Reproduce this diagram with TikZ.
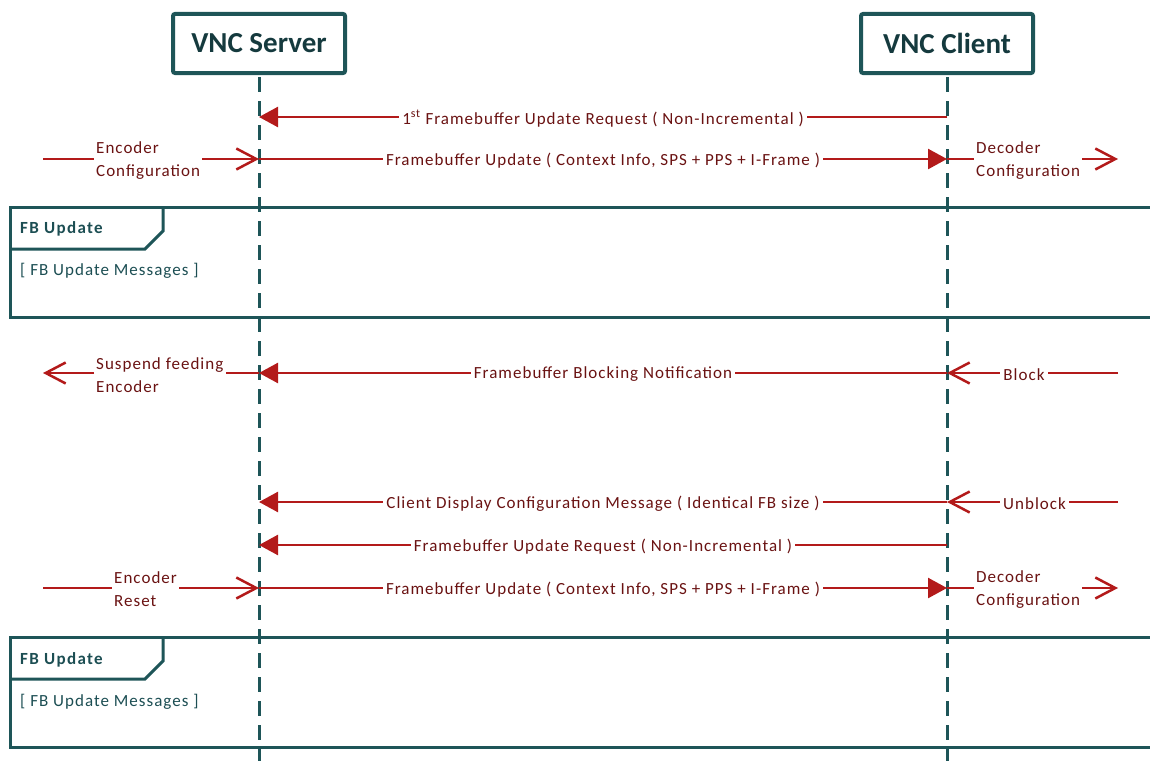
\documentclass[tikz,border=0pt]{standalone}
\usepackage{fontspec}
\setmainfont{Carlito}
\newfontfamily\msgfont[LetterSpace=6]{Carlito}
\newfontfamily\titlefont[LetterSpace=8]{Carlito}
\usetikzlibrary{arrows.meta}

\definecolor{lifeteal}{HTML}{1E5558}
\definecolor{headtext}{HTML}{153A3E}
\definecolor{frametext}{HTML}{1C4E53}
\definecolor{msgred}{HTML}{B31A1A}
\definecolor{msgtext}{HTML}{6A1212}

\tikzset{
  actor/.style={draw=lifeteal, line width=4pt, rounded corners=2pt, fill=white,
    minimum width=172pt, minimum height=59pt, inner sep=0pt,
    font=\fontsize{29}{32}\selectfont\bfseries, text=headtext},
  lifeline/.style={draw=lifeteal, line width=3pt, dash pattern=on 15pt off 9pt},
  msg/.style={draw=msgred, line width=2.5pt},
  sync/.style={msg, -{Triangle[length=19pt,width=20pt]}},
  open/.style={msg, -{Straight Barb[length=20pt,width=21pt]}},
  msglbl/.style={fill=white, text=msgtext, inner xsep=3pt, inner ysep=1pt,
    yshift=-1.5pt, font=\msgfont\fontsize{17}{23}\selectfont},
  sidelbl/.style={text=msgtext, align=left, inner sep=2pt,
    font=\msgfont\fontsize{17}{23}\selectfont},
  frameline/.style={draw=lifeteal, line width=3pt},
  frametitle/.style={text=frametext, inner sep=0pt,
    font=\titlefont\fontsize{17}{20}\selectfont\bfseries},
  framebody/.style={text=frametext, inner sep=0pt,
    font=\msgfont\fontsize{17}{20}\selectfont},
}

\begin{document}
\begin{tikzpicture}[x=1pt,y=-1pt]
\useasboundingbox (0,0) rectangle (1150,760);

% combined fragments
\draw[frameline] (1155,207) -- (10,207) -- (10,317) -- (1155,317);
\draw[frameline] (10,249) -- (145,249) -- (163,231) -- (163,207);
\node[frametitle, anchor=west] at (20,229) {FB Update};
\node[framebody, anchor=west] at (20,271) {[ FB Update Messages ]};

\draw[frameline] (1155,637) -- (10,637) -- (10,747) -- (1155,747);
\draw[frameline] (10,679) -- (145,679) -- (163,661) -- (163,637);
\node[frametitle, anchor=west] at (20,660) {FB Update};
\node[framebody, anchor=west] at (20,702) {[ FB Update Messages ]};

% participants
\node[actor] (srv) at (259,43.5) {VNC Server};
\node[actor] (cli) at (947,43.5) {VNC Client};

\coordinate (srvEnd) at (259,762);
\coordinate (cliEnd) at (947,762);
\draw[lifeline] ([yshift=-2pt]srv.south) -- (srvEnd);
\draw[lifeline] ([yshift=-2pt]cli.south) -- (cliEnd);

% anchor points on the lifelines
\coordinate (s1) at (259,117); \coordinate (c1) at (947,117);
\coordinate (s2) at (259,159); \coordinate (c2) at (947,159);
\coordinate (s3) at (259,373); \coordinate (c3) at (947,373);
\coordinate (s4) at (259,502); \coordinate (c4) at (947,502);
\coordinate (s5) at (259,545); \coordinate (c5) at (947,545);
\coordinate (s6) at (259,588); \coordinate (c6) at (947,588);

% initial request and first update
\draw[sync] (c1) -- node[msglbl] {1\textsuperscript{st} Framebuffer Update Request ( Non-Incremental )} (s1);
\draw[sync] (s2) -- node[msglbl] {Framebuffer Update ( Context Info, SPS + PPS + I-Frame )} (c2);

\coordinate (encIn) at (43,159);
\node[sidelbl, anchor=west] (encCfg) at (94,160.5) {Encoder\\Configuration};
\draw[msg] (encIn) -- (encIn -| encCfg.west);
\draw[open] (encCfg.east |- s2) -- (s2);

\coordinate (decOut1) at (1118,159);
\node[sidelbl, anchor=west] (decCfg1) at (974,160.5) {Decoder\\Configuration};
\draw[msg] (c2) -- (c2 -| decCfg1.west);
\draw[open] (decCfg1.east |- decOut1) -- (decOut1);

% blocking
\draw[sync] (c3) -- node[msglbl] {Framebuffer Blocking Notification} (s3);
\coordinate (blkIn) at (1118,373);
\draw[open] (blkIn) -- node[msglbl, pos=0.55] {Block} (c3);
\coordinate (suspOut) at (43,373);
\node[sidelbl, anchor=west] (susp) at (94,375) {Suspend feeding\\Encoder};
\draw[open] (suspOut -| susp.west) -- (suspOut);
\draw[msg] (s3) -- (s3 -| susp.east);

% unblocking
\draw[sync] (c4) -- node[msglbl] {Client Display Configuration Message ( Identical FB size )} (s4);
\coordinate (ublkIn) at (1118,502);
\draw[open] (ublkIn) -- node[msglbl, pos=0.488] {Unblock} (c4);

\draw[sync] (c5) -- node[msglbl] {Framebuffer Update Request ( Non-Incremental )} (s5);

% reset and new update
\draw[sync] (s6) -- node[msglbl] {Framebuffer Update ( Context Info, SPS + PPS + I-Frame )} (c6);
\coordinate (rstIn) at (43,588);
\node[sidelbl, anchor=west] (encRst) at (112,589.5) {Encoder\\Reset};
\draw[msg] (rstIn) -- (rstIn -| encRst.west);
\draw[open] (encRst.east |- s6) -- (s6);

\coordinate (decOut2) at (1118,588);
\node[sidelbl, anchor=west] (decCfg2) at (974,589.5) {Decoder\\Configuration};
\draw[msg] (c6) -- (c6 -| decCfg2.west);
\draw[open] (decCfg2.east |- decOut2) -- (decOut2);
\end{tikzpicture}
\end{document}
